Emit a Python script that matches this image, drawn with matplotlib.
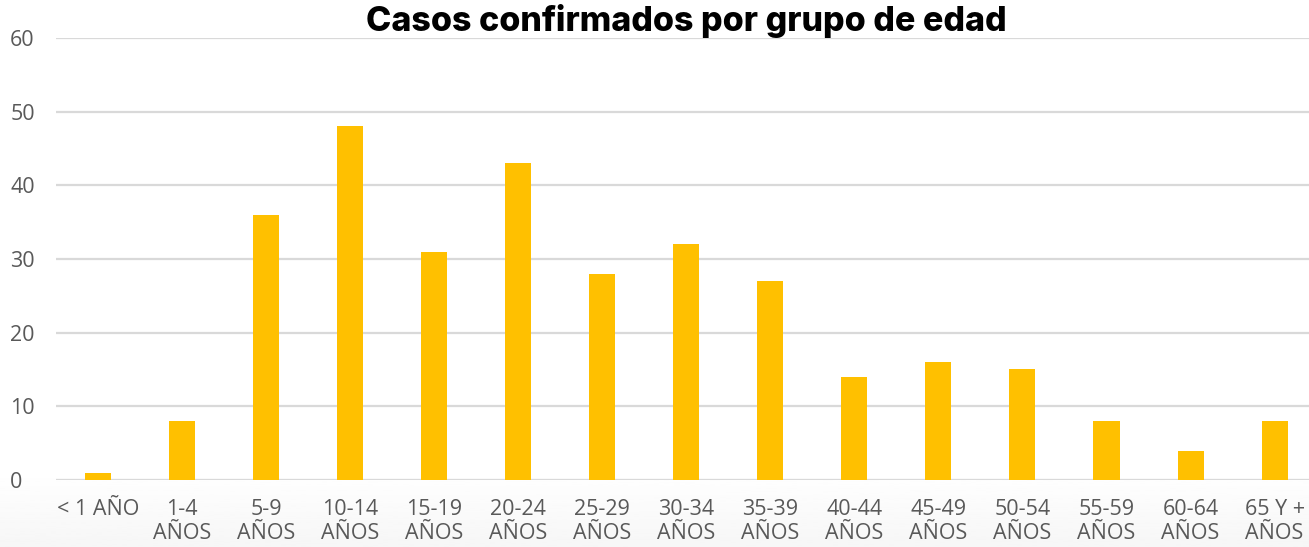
import numpy as np
import matplotlib.pyplot as plt

categories = ["< 1 AÑO", "1-4\nAÑOS", "5-9\nAÑOS", "10-14\nAÑOS", "15-19\nAÑOS",
              "20-24\nAÑOS", "25-29\nAÑOS", "30-34\nAÑOS", "35-39\nAÑOS", "40-44\nAÑOS",
              "45-49\nAÑOS", "50-54\nAÑOS", "55-59\nAÑOS", "60-64\nAÑOS", "65 Y +\nAÑOS"]
casos = [1, 8, 36, 48, 31, 43, 28, 32, 27, 14, 16, 15, 8, 4, 8]
yticks = [0, 10, 20, 30, 40, 50, 60]

plt.rcParams["font.family"] = ["Open Sans", "DejaVu Sans"]

fig = plt.figure(figsize=(13.09, 5.47), dpi=100)

# faint gradient band at the bottom, as in the reference
bg = fig.add_axes([0, 0, 1, 0.14], zorder=-1)
grad = np.linspace(0.965, 1.0, 50).reshape(-1, 1)
bg.imshow(grad, cmap="gray", vmin=0, vmax=1, aspect="auto", origin="lower",
          extent=[0, 1, 0, 1])
bg.axis("off")

ax = fig.add_axes([0.0428, 0.1225, 0.963, 0.808])
ax.patch.set_alpha(0)
x = np.arange(len(categories))
ax.bar(x, casos, width=0.31, color="#FFC000", zorder=3)

ax.set_xlim(-0.5, len(categories) - 0.5)
ax.set_ylim(0, 60)
ax.set_yticks(yticks)
ax.set_xticks(x)
ax.set_xticklabels(categories, fontsize=15.5, color="#595959", linespacing=1.15)
ax.tick_params(axis="y", labelsize=15.5, labelcolor="#595959", length=0, pad=33)
ax.tick_params(axis="x", length=0, pad=14)
ax.grid(axis="y", color="#D9D9D9", linewidth=1.6, zorder=0)
for s in ax.spines.values():
    s.set_visible(False)
for lab in ax.get_yticklabels():
    lab.set_horizontalalignment("left")

ax.set_title("Casos confirmados por grupo de edad", fontsize=24.5, fontweight="heavy",
             fontfamily=["Inter", "DejaVu Sans"], color="black", pad=3)

fig.savefig("out.png", dpi=100)
